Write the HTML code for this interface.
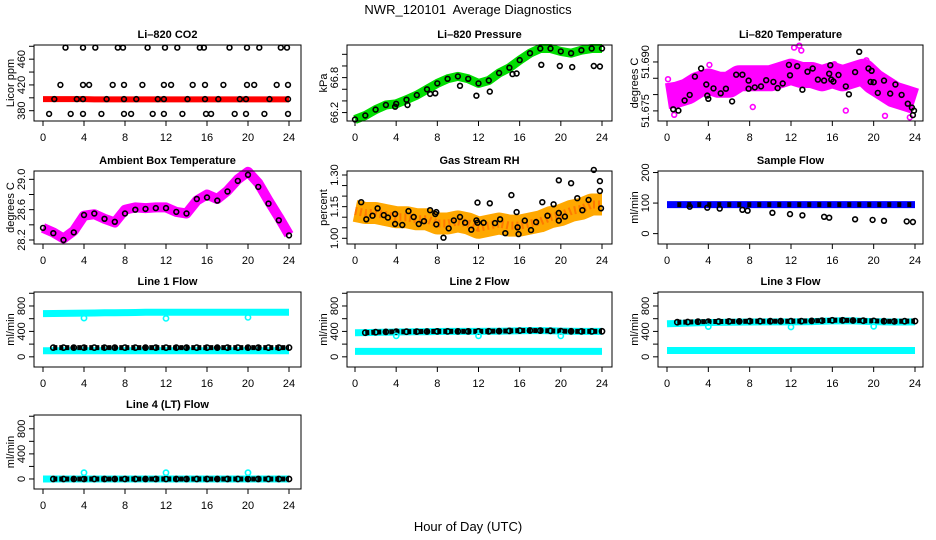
<!DOCTYPE html>
<html><head><meta charset="utf-8"><style>
html,body{margin:0;padding:0;background:#fff;}
svg{display:block;font-family:"Liberation Sans",Helvetica,Arial,sans-serif;}
</style></head><body>
<svg id="c" width="936" height="540" viewBox="0 0 936 540" xmlns="http://www.w3.org/2000/svg">
<rect width="936" height="540" fill="#fff"/>
<text x="468" y="14" text-anchor="middle" font-size="13" xml:space="preserve">NWR_120101  Average Diagnostics</text>
<text x="468" y="531" text-anchor="middle" font-size="13">Hour of Day (UTC)</text>
</svg>
<script>
// ---------- data ----------
const hours = [0,1,2,3,4,5,6,7,8,9,10,11,12,13,14,15,16,17,18,19,20,21,22,23,24];
const xTicks = [0,4,8,12,16,20,24];

// CO2
const co2Band = [398,398,398,398,398,397.5,397.5,397.5,397.5,397.5,397.5,397.5,397.5,397.5,397.5,397.5,397.5,397.5,397.5,397.5,397.5,397.5,397.5,397.5,397.5];
const co2PtHours = [2.2,3.9,5.1,7.3,7.8,10.2,11.9,13.1,15.3,15.7,18.2,19.9,21.1,23.2,23.8, 1.7,3.9,4.5,6.8,7.9,9.7,11.8,12.5,14.6,15.8,17.6,19.9,20.6,22.8,23.9, 1.1,3.3,3.9,6.2,7.9,9.1,11.2,11.8,14.1,15.8,17.1,19.2,19.8,22.1,23.9, 0.6,2.7,3.9,5.7,7.9,8.6,10.7,11.8,13.6,15.9,16.4,18.7,19.8,21.6,23.9];
const co2PtVals = [478,478,478,478,478,478,478,478,478,478,478,478,478,478,478, 420,420,420,420,420,420,420,420,420,420,420,420,420,420,420, 398,398,398,398,398,398,398,398,398,398,398,398,398,398,398, 375,375,375,375,375,375,375,375,375,375,375,375,375,375,375];

// Pressure
const presBand = [66.08,66.15,66.25,66.33,66.35,66.42,66.5,66.6,66.7,66.78,66.82,66.78,66.7,66.75,66.88,66.97,67.1,67.22,67.3,67.3,67.25,67.22,67.27,67.3,67.3];
const presOutHours = [3.9,5.1,7.3,7.8,10.2,11.8,13.1,15.3,15.7,18.1,19.9,21.1,23.2,23.8];
const presOutVals = [66.3,66.33,66.52,66.53,66.66,66.49,66.56,66.86,66.87,67.02,67.0,66.98,67.0,66.99];

// Li-820 temperature
const ltBand = [51.6795,51.680,51.681,51.683,51.684,51.683,51.683,51.685,51.685,51.685,51.685,51.686,51.687,51.686,51.686,51.685,51.686,51.685,51.686,51.687,51.684,51.682,51.680,51.679,51.678];
const ltMagHours = [12.8,12.3,13.0,8.3,17.3,21.1,23.5,0.7,0.1,4.1,16.2,19.3];
const ltMagVals = [51.6950,51.6944,51.6935,51.6762,51.6751,51.6735,51.6730,51.6738,51.6847,51.6891,51.6893,51.6905];
const ltPtHours = [0.6,1.1,1.7,2.2,2.7,3.3,3.8,3.9,4.0,4.5,5.2,5.7,6.3,6.7,7.3,7.9,7.9,8.5,9.1,9.6,10.3,10.7,11.2,11.8,11.9,12.6,13.1,13.6,14.1,14.6,15.2,15.7,15.8,15.9,16.1,16.6,17.3,17.6,18.2,18.6,19.5,19.7,19.8,20.0,20.4,21.0,21.6,22.1,22.7,23.3,23.7,23.8,23.9];
const ltPtVals = [51.6755,51.6751,51.6782,51.6799,51.6855,51.688,51.6831,51.6797,51.6787,51.6819,51.6804,51.6818,51.6779,51.6861,51.6861,51.6843,51.6818,51.6822,51.6825,51.6844,51.6839,51.682,51.6834,51.6891,51.6859,51.6887,51.6815,51.687,51.688,51.6846,51.6843,51.6864,51.689,51.6846,51.684,51.686,51.6825,51.6801,51.6869,51.6931,51.688,51.6839,51.6873,51.6838,51.6805,51.6843,51.6803,51.6831,51.6799,51.6772,51.676,51.6737,51.6751];

// Ambient box temperature
const ambBand = [28.36,28.3,28.22,28.32,28.52,28.54,28.48,28.43,28.6,28.63,28.62,28.63,28.63,28.57,28.55,28.72,28.8,28.74,28.85,29.0,29.1,28.95,28.72,28.5,28.27];
const ambPts = [28.36,28.29,28.2,28.3,28.53,28.55,28.48,28.44,28.55,28.6,28.61,28.62,28.62,28.57,28.55,28.74,28.76,28.72,28.84,28.98,29.06,28.9,28.68,28.46,28.26];

// Gas stream RH
const rhBand = [1.13,1.12,1.12,1.11,1.10,1.10,1.09,1.09,1.07,1.07,1.08,1.07,1.05,1.06,1.07,1.06,1.06,1.07,1.08,1.10,1.11,1.13,1.14,1.16,1.16];
const rhPtHours = [0.6,1.1,1.7,2.2,2.8,3.2,3.9,3.9,4.6,5.2,5.7,6.2,6.7,7.3,7.8,7.9,7.9,8.6,9.1,9.6,10.2,10.7,11.3,11.8,11.9,11.9,12.5,13.1,13.6,14.1,14.6,15.2,15.7,15.8,15.9,16.5,17.1,17.6,18.2,18.7,19.3,19.8,19.8,19.8,20.4,21.0,21.6,22.1,22.7,23.2,23.8,23.8,23.9];
const rhPtVals = [1.171,1.09,1.107,1.142,1.11,1.098,1.115,1.068,1.063,1.129,1.101,1.068,1.081,1.133,1.115,1.124,1.066,1.003,1.047,1.085,1.101,1.074,1.041,1.085,1.074,1.169,1.074,1.166,1.072,1.09,1.024,1.205,1.124,1.052,1.02,1.084,1.039,1.077,1.171,1.107,1.161,1.275,1.12,1.084,1.103,1.261,1.19,1.133,1.182,1.324,1.271,1.224,1.142];

// Sample flow
const sfBand = [95,95,95,95,95,95,95,95,95,95,95,95,95,95,95,95,95,95,95,95,95,95,95,95,95];
const sfLowHours = [2.2,3.9,5.1,7.3,7.8,10.2,11.9,13.1,15.2,15.7,18.2,19.9,21.0,23.2,23.8];
const sfLowVals = [88,85,82,78,75,68,64,60,55,52,47,45,42,40,38];

// Line flows
const l1High = [680,682,684,686,688,690,692,694,696,698,700,700,700,700,700,700,702,702,702,702,702,702,700,700,700];
const l1Low = [95,95,95,95,95,95,95,95,95,95,95,95,95,95,95,95,95,95,95,95,95,95,95,95,95];
const l1Black = [145,145,145,145,145,145,145,145,145,145,145,145,145,145,145,145,145,145,145,145,145,145,145,145,145];
const l2High = [380,382,385,388,390,392,394,396,398,400,400,400,400,402,404,406,410,412,412,410,405,402,400,400,400];
const l2Low = [85,85,85,85,85,85,85,85,85,85,85,85,85,85,85,85,85,85,85,85,85,85,85,85,85];
const l2Black = [380,380,388,392,395,396,397,398,400,400,400,400,400,402,405,408,412,414,413,410,405,402,400,400,402];
const l3High = [520,525,530,535,540,542,544,546,548,550,550,550,550,552,555,560,565,568,565,560,555,550,548,548,550];
const l3Low = [100,100,100,100,100,100,100,100,100,100,100,100,100,100,100,100,100,100,100,100,100,100,100,100,100];
const l3Black = [540,545,548,552,555,556,557,558,560,560,560,560,560,562,565,570,575,575,572,568,565,560,558,560,562];
const l4Cyan = [0,0,0,0,0,0,0,0,0,0,0,0,0,0,0,0,0,0,0,0,0,0,0,0,0];
const l4Black = [0,0,0,0,0,0,0,0,0,0,0,0,0,0,0,0,0,0,0,0,0,0,0,0,0];
const dipHours = [4,12,20];
const l1Dips = [610,605,620];
const l2Dips = [330,330,330];
const l3Dips = [475,470,480];
const l4Dips = [100,100,100];

// ---------- drawing ----------
const svg = document.getElementById('c');
const NS = 'http://www.w3.org/2000/svg';
function mk(tag, attrs, parent){const e=document.createElementNS(NS,tag);for(const k in attrs)e.setAttribute(k,attrs[k]);(parent||svg).appendChild(e);return e;}

const cols = [{l:34,r:301,x0:43,x24:289},{l:347,r:612,x0:355,x24:602},{l:658,r:923,x0:667,x24:915}];
const rows = [{t:45,b:121},{t:171,b:244},{t:292,b:367},{t:415,b:489}];

function panel(name, title, ylabel, ci, ri, ymin, ymax, yTicks, yLabels){
  const c=cols[ci], r=rows[ri];
  const g=mk('g',{});
  
  
  const xs=h=>c.x0+(c.x24-c.x0)*h/24;
  const ys=v=>r.b-(v-ymin)/(ymax-ymin)*(r.b-r.t);
  const pl=mk('g',{},g);
  
  
  const fin=()=>{
    const box=mk('rect',{x:c.l,y:r.t,width:c.r-c.l,height:r.b-r.t,fill:'none',stroke:'#000','stroke-width':1},g);
    
    
    const t=mk('text',{x:(c.l+c.r)/2,y:r.t-7,'text-anchor':'middle','font-size':11,'font-weight':'bold'},g);
    t.textContent=title;
    
    
    const xa=mk('g',{stroke:'#000','stroke-width':1},g);
    
    
    mk('line',{x1:xs(xTicks[0]),x2:xs(xTicks[xTicks.length-1]),y1:r.b,y2:r.b},xa);
    xTicks.forEach(v=>{
      mk('line',{x1:xs(v),x2:xs(v),y1:r.b,y2:r.b+5},xa);
      const tl=mk('text',{x:xs(v),y:r.b+20,'text-anchor':'middle','font-size':11,stroke:'none',fill:'#000'},g);
      tl.textContent=v;
      
      
    });
    const ya=mk('g',{stroke:'#000','stroke-width':1},g);
    
    
    mk('line',{x1:c.l,x2:c.l,y1:ys(yTicks[0]),y2:ys(yTicks[yTicks.length-1])},ya);
    yTicks.forEach(v=>mk('line',{x1:c.l-5,x2:c.l,y1:ys(v),y2:ys(v)},ya));
    yLabels.forEach(v=>{
      const y=ys(parseFloat(v));
      const tl=mk('text',{x:c.l-9,y:y,'text-anchor':'middle','font-size':11,transform:`rotate(-90 ${c.l-9} ${y})`},g);
      tl.textContent=v;
      
      
    });
    const yt=mk('text',{x:c.l-20,y:(r.t+r.b)/2,'text-anchor':'middle','font-size':11,transform:`rotate(-90 ${c.l-20} ${(r.t+r.b)/2})`},g);
    yt.textContent=ylabel;
    
    
  };
  return {xs,ys,g:pl,fin};
}
function band(p, hs, vs, color, w, nm){
  const d=hs.map((h,i)=>(i?'L':'M')+p.xs(h).toFixed(1)+' '+p.ys(vs[i]).toFixed(1)).join(' ');
  const e=mk('path',{d:d,fill:'none',stroke:color,'stroke-width':w,'stroke-linejoin':'round','stroke-linecap':'butt'},p.g);
  
  
  return e;
}
function pts(p, hs, vs, color, nm, rad){
  const gg=mk('g',{fill:'none',stroke:color,'stroke-width':1.6},p.g);
  
  
  hs.forEach((h,i)=>mk('circle',{cx:p.xs(h).toFixed(1),cy:p.ys(vs[i]).toFixed(1),r:rad||2.4},gg));
}

// Panel 1 CO2
let p=panel('co2','Li\u2013820 CO2','Licor ppm',0,0,364,482,[380,400,420,440,460,480],['380','420','460']);
band(p,hours,co2Band,'#ff0000',6,'co2-red-band');
pts(p,co2PtHours,co2PtVals,'#000','co2-points');
p.fin();

// Panel 2 Pressure
p=panel('pressure','Li\u2013820 Pressure','kPa',1,0,66.055,67.36,[66.2,66.4,66.6,66.8,67.0,67.2],['66.2','66.8']);
band(p,hours,presBand,'#00dd00',9,'pressure-green-band');
pts(p,hours,presBand,'#000','pressure-points');
pts(p,presOutHours,presOutVals,'#000','pressure-outliers');
p.fin();

// Panel 3 Li temp
p=panel('li-temp','Li\u2013820 Temperature','degrees C',2,0,51.6719,51.6952,[51.675,51.680,51.685,51.690],['51.675','51.690']);
band(p,hours,ltBand,'#ff00ff',26,'li-temp-magenta-band');
pts(p,ltMagHours,ltMagVals,'#ff00ff','li-temp-magenta-outliers');
pts(p,ltPtHours,ltPtVals,'#000','li-temp-points');
p.fin();

// Panel 4 Ambient
p=panel('ambient-temp','Ambient Box Temperature','degrees C',0,1,28.147,29.11,[28.2,28.4,28.6,28.8,29.0],['28.2','28.6','29.0']);
band(p,hours,ambBand,'#ff00ff',10,'ambient-magenta-band');
pts(p,hours,ambPts,'#000','ambient-points');
p.fin();

// Panel 5 RH
p=panel('rh','Gas Stream RH','percent',1,1,0.973,1.319,[1.00,1.05,1.10,1.15,1.20,1.25,1.30],['1.00','1.15','1.30']);
band(p,hours,rhBand,'#ffa800',22,'rh-orange-band');
band(p,hours,rhBand,'#ff7a00',8,'rh-orange-core').setAttribute('stroke-dasharray','2,3');
pts(p,rhPtHours,rhPtVals,'#000','rh-points');
p.fin();

// Panel 6 Sample flow
p=panel('sample-flow','Sample Flow','ml/min',2,1,-34,205,[0,100,200],['0','100','200']);
band(p,hours,sfBand,'#0000ff',7,'sample-flow-blue-band');
band(p,hours.slice(1),sfBand.slice(1),'#000',5,'sample-flow-black-chain').setAttribute('stroke-dasharray','4,6');
pts(p,sfLowHours,sfLowVals,'#000','sample-flow-points');
p.fin();

const fT=[0,200,400,600,800,1000], fL=['0','400','800'];
function flowPanel(nm,title,ci,ri,hi,lo,bl,dips){
  const q=panel(nm,title,'ml/min',ci,ri,-160,1020,fT,fL);
  if(hi) band(q,hours,hi,'#00ffff',7,nm+'-cyan-high');
  if(lo) band(q,hours,lo,'#00ffff',7,nm+'-cyan-low');
  band(q,hours.slice(1),bl.slice(1),'#000',5,nm+'-black-chain').setAttribute('stroke-dasharray','4,2');
  pts(q,hours.slice(1),bl.slice(1),'#000',nm+'-black-points',2.6);
  pts(q,dipHours,dips,'#00ffff',nm+'-cyan-dips',2.6);
  q.fin();
}
flowPanel('line1-flow','Line 1 Flow',0,2,l1High,l1Low,l1Black,l1Dips);
flowPanel('line2-flow','Line 2 Flow',1,2,l2High,l2Low,l2Black,l2Dips);
flowPanel('line3-flow','Line 3 Flow',2,2,l3High,l3Low,l3Black,l3Dips);
flowPanel('line4-flow','Line 4 (LT) Flow',0,3,null,l4Cyan,l4Black,l4Dips);
</script>
</body></html>
